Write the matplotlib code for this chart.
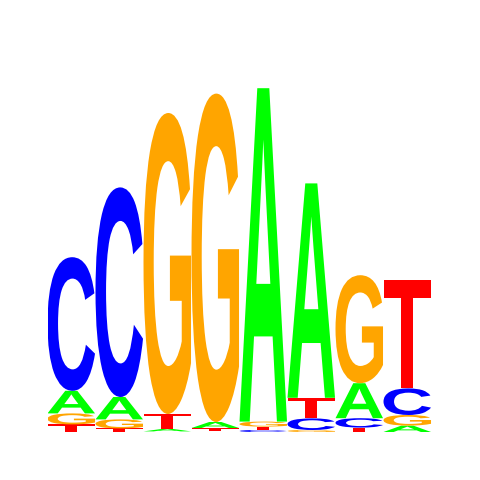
import numpy as np
import matplotlib
matplotlib.use("Agg")
import matplotlib.pyplot as plt
from matplotlib.textpath import TextPath
from matplotlib.patches import PathPatch
from matplotlib.font_manager import FontProperties
from matplotlib.transforms import Affine2D

# information content per base (bits), positions 1..8
bases = ["A", "C", "G", "T"]
A = [0.113, 0.112, 0.012, 0.030, 1.667, 1.072, 0.175, 0.032]
C = [0.668, 1.048, 0.003, 0.003, 0.010, 0.058, 0.047, 0.133]
G = [0.055, 0.045, 1.505, 1.642, 0.025, 0.010, 0.540, 0.053]
T = [0.038, 0.018, 0.075, 0.017, 0.017, 0.103, 0.022, 0.540]

colors = {"A": "#00ff00", "C": "#0000ff", "G": "#ffa500", "T": "#ff0000"}
font = FontProperties(family="Liberation Sans", weight="bold")


def draw_letter(ax, letter, x0, y0, w, h):
    tp = TextPath((0, 0), letter, size=100, prop=font)
    bb = tp.get_extents()
    tr = (Affine2D().translate(-bb.x0, -bb.y0)
          .scale(w / bb.width, h / bb.height)
          .translate(x0, y0))
    path = tr.transform_path(tp)
    ax.add_patch(PathPatch(path, facecolor=colors[letter], edgecolor="none"))


fig = plt.figure(figsize=(4.8, 4.8), dpi=100)
# baseline at 48 px from bottom, 200 px per bit
ax = fig.add_axes([47.5 / 480, 48 / 480, 384 / 480, 400 / 480])
ax.set_xlim(0.5, 8.5)
ax.set_ylim(0, 2)
ax.axis("off")

data = np.array([A, C, G, T])
for i in range(data.shape[1]):
    col = data[:, i]
    order = np.argsort(col)
    y = 0.0
    for j in order:
        h = col[j]
        if h > 0.005:
            draw_letter(ax, bases[j], i + 0.5, y, 0.99, h)
        y += h

fig.savefig("out.png", dpi=100)
